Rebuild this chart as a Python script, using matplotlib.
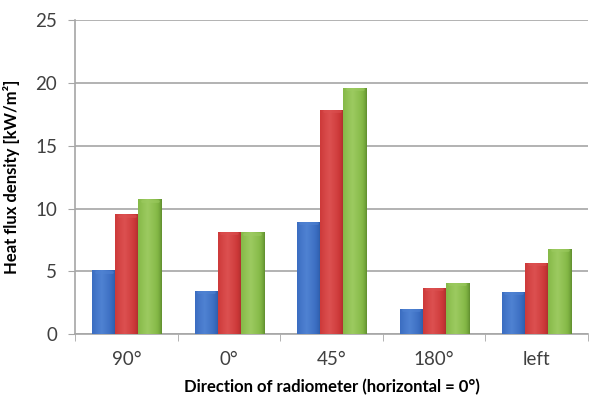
import numpy as np
import matplotlib.pyplot as plt
from matplotlib.colors import LinearSegmentedColormap

plt.rcParams['font.family'] = ['Lato', 'DejaVu Sans']

# Measured heat flux density per radiometer direction
directions = ["90°", "0°", "45°", "180°", "left"]
series_blue = [5.1, 3.45, 8.95, 2.05, 3.37]
series_red = [9.55, 8.15, 17.85, 3.72, 5.71]
series_green = [10.75, 8.1, 19.6, 4.09, 6.82]

# Each series: (dark edge, mid, light centre)
SERIES_COLORS = [
    ("#28549c", "#3a6cc0", "#4f82d2"),
    ("#9e2a2a", "#cc3838", "#dc5050"),
    ("#5c8a2c", "#84b846", "#9cca60"),
]

fig, ax = plt.subplots(figsize=(5.89, 3.98), dpi=100)
fig.subplots_adjust(left=0.128, right=0.998, top=0.95, bottom=0.16)

x = np.arange(len(directions))
width = 0.225
offsets = [-width, 0, width]

# Horizontal shading used to give each bar a rounded look
grad = np.linspace(0, 1, 64)
shade = np.clip(1 - np.abs(grad - 0.4) / 0.6, 0, 1) ** 0.6
shade = shade[np.newaxis, :]

for values, off, (dark, mid, light) in zip([series_blue, series_red, series_green], offsets, SERIES_COLORS):
    cmap = LinearSegmentedColormap.from_list("bar", [dark, mid, light])
    bars = ax.bar(x + off, values, width, color=mid, edgecolor=dark, linewidth=0.6, zorder=3)
    for b in bars:
        x0, y0 = b.get_x(), b.get_y()
        w, h = b.get_width(), b.get_height()
        im = ax.imshow(shade, cmap=cmap, extent=[x0, x0 + w, y0, y0 + h],
                       aspect='auto', zorder=3.5, interpolation='bicubic', vmin=0, vmax=1)
        im.set_clip_path(b)
        # light cap at the top of the bar
        ax.plot([x0 + w * 0.15, x0 + w * 0.85], [y0 + h - 0.12, y0 + h - 0.12],
                color=light, linewidth=2, alpha=0.6, zorder=4, solid_capstyle='round')

ax.set_xlim(-0.5, len(directions) - 0.5)
ax.set_ylim(0, 25)
ax.set_yticks(range(0, 26, 5))
ax.set_xticks(x)
ax.set_xticklabels(directions)
ax.set_xticks(np.arange(-0.5, len(directions), 1), minor=True)

ax.yaxis.grid(True, color="#a6a6a6", linewidth=1.2, zorder=0)
ax.set_axisbelow(True)
for side in ["top", "right"]:
    ax.spines[side].set_visible(False)
for side in ["left", "bottom"]:
    ax.spines[side].set_color("#a6a6a6")
    ax.spines[side].set_linewidth(1.2)

ax.tick_params(axis='y', which='major', length=5, color="#a6a6a6", labelsize=13.5, labelcolor="#404040", pad=8)
ax.tick_params(axis='x', which='major', length=0, labelsize=13.5, labelcolor="#404040", pad=12)
ax.tick_params(axis='x', which='minor', length=5, color="#a6a6a6")

ax.set_xlabel("Direction of radiometer (horizontal = 0°)", fontsize=12, fontweight='bold', labelpad=8)
ax.set_ylabel("Heat flux density [kW/m²]", fontsize=12, fontweight='bold', labelpad=11)

fig.savefig("out.png", dpi=100)
